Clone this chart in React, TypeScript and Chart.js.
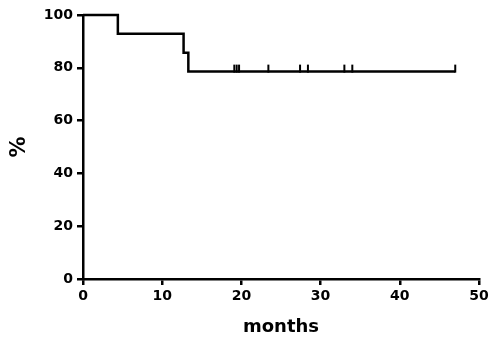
import React, { useEffect, useRef } from "react";
import { Chart, registerables } from "chart.js";

Chart.register(...registerables);

const eventTimes = [0, 4.4, 12.7, 13.3, 47];
const survival = [100, 92.86, 85.71, 78.57, 78.57];
const censorTimes = [19.1, 19.4, 19.7, 23.4, 27.4, 28.4, 33.0, 34.0, 47.0];
const censorSurvival = [78.57, 78.57, 78.57, 78.57, 78.57, 78.57, 78.57, 78.57, 78.57];
const xTicks = [0, 10, 20, 30, 40, 50];
const yTicks = [0, 20, 40, 60, 80, 100];

function makeTickImage(): HTMLCanvasElement {
  const c = document.createElement("canvas");
  c.width = 4;
  c.height = 16;
  const g = c.getContext("2d")!;
  g.fillStyle = "#000";
  g.fillRect(1, 1, 2, 8);
  return c;
}

export default function App() {
  const ref = useRef<HTMLCanvasElement | null>(null);
  useEffect(() => {
    if (!ref.current) return;
    const tickImg = makeTickImage();
    const chart = new Chart(ref.current, {
      type: "line",
      data: {
        datasets: [
          {
            data: eventTimes.map((x, i) => ({ x, y: survival[i] })),
            borderColor: "#000",
            borderWidth: 2.5,
            stepped: true,
            pointRadius: 0,
            fill: false,
            clip: false,
          } as any,
          {
            type: "scatter",
            data: censorTimes.map((x, i) => ({ x, y: censorSurvival[i] })),
            pointStyle: tickImg as any,
            pointRadius: 4,
            showLine: false,
            clip: false,
          } as any,
        ],
      },
      options: {
        animation: false,
        responsive: false,
        layout: { padding: { left: 0, right: 21, top: 15, bottom: 0 } },
        plugins: { legend: { display: false }, tooltip: { enabled: false } },
        scales: {
          x: {
            type: "linear",
            min: 0,
            max: 50,
            afterFit: (s: any) => {
              s.height = 65;
            },
            afterBuildTicks: (s: any) => {
              s.ticks = xTicks.map((v) => ({ value: v }));
            },
            border: { display: true, color: "#000", width: 2.5 },
            grid: {
              display: true,
              drawOnChartArea: false,
              drawTicks: true,
              tickLength: 6,
              color: "#000",
              lineWidth: 2.5,
            },
            ticks: {
              color: "#000",
              padding: 3,
              maxRotation: 0,
              font: { family: "DejaVu Sans", weight: "bold", size: 14 },
            },
            title: {
              display: true,
              text: "months",
              color: "#000",
              padding: { top: 0, bottom: 6 },
              font: { family: "DejaVu Sans", weight: "bold", size: 18 },
            },
          },
          y: {
            type: "linear",
            min: 0,
            max: 100,
            afterFit: (s: any) => {
              s.width = 83;
            },
            afterBuildTicks: (s: any) => {
              s.ticks = yTicks.map((v) => ({ value: v }));
            },
            border: { display: true, color: "#000", width: 2.5 },
            grid: {
              display: true,
              drawOnChartArea: false,
              drawTicks: true,
              tickLength: 6,
              color: "#000",
              lineWidth: 2.5,
            },
            ticks: {
              color: "#000",
              padding: 4,
              font: { family: "DejaVu Sans", weight: "bold", size: 14 },
            },
            title: {
              display: true,
              text: "%",
              color: "#000",
              padding: { top: 7, bottom: 0 },
              font: { family: "DejaVu Sans", weight: "bold", size: 21 },
            },
          },
        },
      },
    });
    return () => chart.destroy();
  }, []);
  return (
    <div style={{ position: "absolute", left: 0, top: 0, width: 500, height: 344, background: "#fff" }}>
      <canvas ref={ref} width={500} height={344} style={{ width: 500, height: 344 }} />
    </div>
  );
}
